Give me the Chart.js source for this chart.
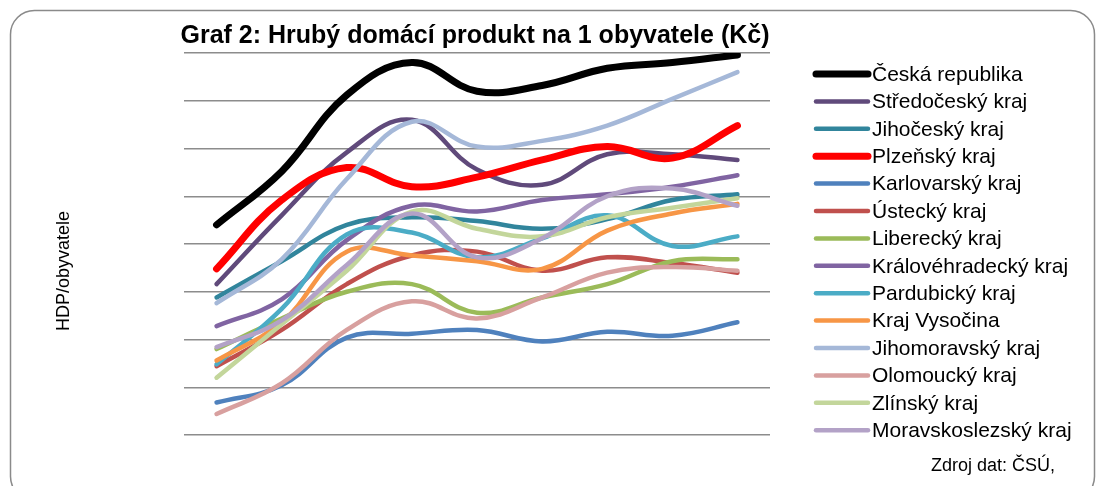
<!DOCTYPE html>
<html>
<head>
<meta charset="utf-8">
<script src="https://cdn.jsdelivr.net/npm/chart.js@4"></script>
<style>
  body { margin: 0; background: #fff; }
  #wrap { width: 1099px; height: 486px; position: relative; }
</style>
</head>
<body>
<div id="wrap"><canvas id="hdpChart"></canvas></div>
<script>
// roky (popisky osy x nejsou v grafu zobrazeny)
const years = ['2000', '2001', '2002', '2003', '2004', '2005', '2006', '2007', '2008'];

// HDP na obyvatele, tis. Kč
const ceskaRepublika = [260, 288, 328, 345, 330, 333, 342, 345, 349];
const stredocesky = [229, 265, 298, 315, 289, 281, 297, 297, 294];
const jihocesky = [222, 241, 260, 264, 262, 258, 263, 273, 276];
const plzensky = [237, 273, 290, 280, 285, 294, 301, 295, 312];
const karlovarsky = [167, 176, 201, 203, 205, 199, 204, 202, 209];
const ustecky = [186, 205, 229, 244, 246, 236, 243, 240, 235];
const liberecky = [195, 211, 225, 229, 214, 222, 229, 241, 242];
const kralovehradecky = [207, 221, 252, 270, 267, 273, 276, 280, 286];
const pardubicky = [187, 216, 255, 256, 243, 253, 265, 249, 254];
const vysocina = [189, 209, 246, 244, 241, 237, 257, 266, 271];
const jihomoravsky = [219, 242, 284, 314, 301, 304, 312, 326, 340];
const olomoucky = [161, 177, 205, 220, 211, 222, 235, 238, 236];
const zlinsky = [180, 208, 236, 267, 258, 254, 264, 269, 274];
const moravskoslezsky = [196, 210, 239, 266, 243, 253, 275, 279, 270];

const series = [
  { label: 'Česká republika', data: ceskaRepublika, color: '#000000', width: 7 },
  { label: 'Středočeský kraj', data: stredocesky, color: '#604a7b', width: 4.5 },
  { label: 'Jihočeský kraj', data: jihocesky, color: '#31859c', width: 4.5 },
  { label: 'Plzeňský kraj', data: plzensky, color: '#ff0000', width: 7 },
  { label: 'Karlovarský kraj', data: karlovarsky, color: '#4f81bd', width: 4.5 },
  { label: 'Ústecký kraj', data: ustecky, color: '#c0504d', width: 4.5 },
  { label: 'Liberecký kraj', data: liberecky, color: '#9bbb59', width: 4.5 },
  { label: 'Královéhradecký kraj', data: kralovehradecky, color: '#8064a2', width: 4.5 },
  { label: 'Pardubický kraj', data: pardubicky, color: '#4bacc6', width: 4.5 },
  { label: 'Kraj Vysočina', data: vysocina, color: '#f79646', width: 4.5 },
  { label: 'Jihomoravský kraj', data: jihomoravsky, color: '#a5b8d8', width: 4.5 },
  { label: 'Olomoucký kraj', data: olomoucky, color: '#d8a09f', width: 4.5 },
  { label: 'Zlínský kraj', data: zlinsky, color: '#c3d69b', width: 4.5 },
  { label: 'Moravskoslezský kraj', data: moravskoslezsky, color: '#b3a2c7', width: 4.5 }
];

const FONT = '"Liberation Sans", Arial, sans-serif';

// rámeček, nadpis, popisek osy y, legenda a zdroj
const decorations = {
  id: 'decorations',
  beforeDraw(chart) {
    const ctx = chart.ctx;
    ctx.save();
    ctx.strokeStyle = '#8a8a8a';
    ctx.lineWidth = 1.5;
    ctx.beginPath();
    ctx.roundRect(10.5, 10.5, 1084, 490, 24);
    ctx.stroke();
    ctx.restore();
  },
  afterDraw(chart) {
    const ctx = chart.ctx;
    const area = chart.chartArea;
    ctx.save();
    ctx.fillStyle = '#000';
    ctx.textBaseline = 'alphabetic';

    ctx.font = 'bold 25px ' + FONT;
    ctx.textAlign = 'center';
    ctx.fillText('Graf 2: Hrubý domácí produkt na 1 obyvatele (Kč)', 475, 43);

    ctx.save();
    ctx.translate(69, 271);
    ctx.rotate(-Math.PI / 2);
    ctx.font = '18px ' + FONT;
    ctx.fillText('HDP/obyvatele', 0, 0);
    ctx.restore();

    ctx.textAlign = 'left';
    ctx.textBaseline = 'middle';
    ctx.font = '21px ' + FONT;
    ctx.lineCap = 'round';
    chart.data.datasets.forEach((ds, i) => {
      const y = 74 + i * 27.4;
      ctx.strokeStyle = ds.borderColor;
      ctx.lineWidth = ds.borderWidth;
      ctx.beginPath();
      ctx.moveTo(816, y);
      ctx.lineTo(868, y);
      ctx.stroke();
      ctx.fillText(ds.label, 872, y + 1);
    });

    ctx.font = '18px ' + FONT;
    ctx.textBaseline = 'alphabetic';
    ctx.fillText('Zdroj dat: ČSÚ,', 931, 471);
    ctx.restore();
  }
};

new Chart(document.getElementById('hdpChart'), {
  type: 'line',
  data: {
    labels: years,
    datasets: series.map((s, i) => ({
      label: s.label,
      data: s.data,
      borderColor: s.color,
      backgroundColor: s.color,
      borderWidth: s.width,
      borderCapStyle: 'round',
      borderJoinStyle: 'round',
      tension: 0.4,
      pointRadius: 0,
      order: series.length - i
    }))
  },
  options: {
    responsive: true,
    maintainAspectRatio: false,
    animation: false,
    layout: { padding: { left: 184, right: 329, top: 53, bottom: 51 } },
    plugins: {
      legend: { display: false },
      tooltip: { enabled: false }
    },
    scales: {
      x: { display: false, offset: true },
      y: {
        min: 150,
        max: 350,
        ticks: { display: false, stepSize: 25 },
        border: { display: false },
        grid: { color: '#8c8c8c', lineWidth: 1.5, drawTicks: false }
      }
    }
  },
  plugins: [decorations]
});
</script>
</body>
</html>
